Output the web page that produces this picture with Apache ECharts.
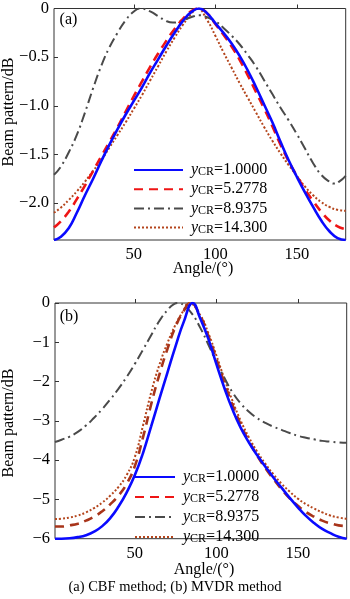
<!DOCTYPE html>
<html>
<head>
<meta charset="utf-8">
<script src="https://cdn.jsdelivr.net/npm/echarts@6/dist/echarts.min.js"></script>
<style>
html,body{margin:0;padding:0;background:#fff;}
#chart{width:350px;height:599px;}
</style>
</head>
<body>
<div id="chart"></div>
<script>
// ---- data: [angle (deg), beam pattern (dB)] ----
// (a) CBF method
const cbfCR1 = [[1,-2.38],[5,-2.35],[10,-2.26],[15,-2.1],[20,-1.92],[25,-1.75],[30,-1.57],[35,-1.4],[40,-1.24],[45,-1.09],[50,-0.95],[55,-0.81],[60,-0.66],[65,-0.52],[70,-0.38],[75,-0.25],[80,-0.13],[85,-0.04],[90,0],[95,-0.05],[100,-0.15],[105,-0.25],[110,-0.36],[115,-0.49],[120,-0.64],[125,-0.81],[130,-0.99],[135,-1.17],[140,-1.37],[145,-1.56],[150,-1.73],[155,-1.89],[160,-2.04],[165,-2.18],[170,-2.29],[175,-2.36],[180,-2.38]];
const cbfCR2 = [[1,-2.25],[5,-2.19],[10,-2.09],[15,-1.96],[20,-1.82],[25,-1.67],[30,-1.52],[35,-1.37],[40,-1.22],[45,-1.06],[50,-0.9],[55,-0.75],[60,-0.6],[65,-0.46],[70,-0.33],[75,-0.21],[80,-0.11],[85,-0.03],[90,0],[95,-0.05],[100,-0.16],[105,-0.27],[110,-0.39],[115,-0.53],[120,-0.69],[125,-0.86],[130,-1.03],[135,-1.21],[140,-1.4],[145,-1.57],[150,-1.72],[155,-1.86],[160,-1.98],[165,-2.09],[170,-2.18],[175,-2.24],[180,-2.27]];
const cbfCR3 = [[1,-1.71],[5,-1.63],[10,-1.48],[15,-1.3],[20,-1.07],[25,-0.82],[30,-0.59],[35,-0.4],[40,-0.25],[45,-0.12],[50,-0.03],[54,0],[60,-0.03],[65,-0.08],[70,-0.13],[74,-0.145],[80,-0.12],[85,-0.09],[90,-0.07],[95,-0.09],[100,-0.13],[105,-0.2],[110,-0.28],[115,-0.37],[120,-0.48],[125,-0.6],[130,-0.74],[135,-0.88],[140,-1.02],[145,-1.15],[150,-1.29],[155,-1.44],[160,-1.59],[165,-1.71],[170,-1.78],[173,-1.8],[176,-1.78],[180,-1.72]];
const cbfCR4 = [[1,-2.1],[5,-2.05],[10,-1.97],[15,-1.88],[20,-1.78],[25,-1.67],[30,-1.56],[35,-1.43],[40,-1.3],[45,-1.17],[50,-1.03],[55,-0.89],[60,-0.74],[65,-0.59],[70,-0.44],[75,-0.3],[80,-0.17],[85,-0.06],[89,0],[95,-0.12],[100,-0.28],[105,-0.45],[110,-0.61],[115,-0.77],[120,-0.92],[125,-1.07],[130,-1.22],[135,-1.36],[140,-1.49],[145,-1.61],[150,-1.72],[155,-1.83],[160,-1.92],[165,-1.99],[170,-2.04],[175,-2.07],[180,-2.08]];
// (b) MVDR method
const mvdrCR1 = [[1,-6.0],[5,-6.0],[10,-5.99],[15,-5.96],[20,-5.91],[25,-5.82],[30,-5.68],[35,-5.47],[40,-5.18],[45,-4.82],[50,-4.38],[55,-3.82],[60,-3.14],[65,-2.45],[70,-1.77],[75,-1.1],[80,-0.48],[85.5,0],[90,-0.38],[95,-0.9],[100,-1.55],[105,-2.17],[110,-2.72],[115,-3.18],[120,-3.55],[125,-3.87],[130,-4.16],[135,-4.44],[140,-4.7],[145,-4.96],[150,-5.2],[155,-5.42],[160,-5.6],[165,-5.75],[170,-5.86],[175,-5.95],[180,-6.0]];
const mvdrCR2 = [[1,-5.69],[5,-5.69],[10,-5.66],[15,-5.62],[20,-5.54],[25,-5.44],[30,-5.3],[35,-5.12],[40,-4.9],[45,-4.6],[50,-4.15],[55,-3.42],[60,-2.58],[65,-1.83],[70,-1.17],[75,-0.6],[80,-0.2],[84,0],[90,-0.32],[95,-0.82],[100,-1.42],[105,-2.04],[110,-2.6],[115,-3.1],[120,-3.52],[125,-3.88],[130,-4.2],[135,-4.48],[140,-4.74],[145,-4.97],[150,-5.16],[155,-5.32],[160,-5.44],[165,-5.54],[170,-5.61],[175,-5.66],[180,-5.68]];
const mvdrCR3 = [[1,-3.54],[5,-3.48],[10,-3.4],[15,-3.28],[20,-3.12],[25,-2.92],[30,-2.7],[35,-2.45],[40,-2.18],[45,-1.88],[50,-1.55],[55,-1.19],[60,-0.82],[65,-0.46],[70,-0.18],[74,-0.03],[77,0],[80,-0.06],[85,-0.27],[90,-0.62],[95,-1.05],[100,-1.5],[105,-1.91],[110,-2.28],[115,-2.56],[120,-2.77],[125,-2.93],[130,-3.05],[135,-3.15],[140,-3.23],[145,-3.31],[150,-3.38],[155,-3.43],[160,-3.47],[165,-3.51],[170,-3.53],[175,-3.55],[180,-3.56]];
const mvdrCR4 = [[1,-5.5],[5,-5.49],[10,-5.46],[15,-5.41],[20,-5.33],[25,-5.22],[30,-5.08],[35,-4.9],[40,-4.68],[45,-4.38],[50,-3.92],[55,-3.12],[60,-2.28],[65,-1.58],[70,-1.02],[75,-0.55],[80,-0.18],[83,0],[90,-0.3],[95,-0.76],[100,-1.33],[105,-1.94],[110,-2.5],[115,-3.0],[120,-3.42],[125,-3.78],[130,-4.09],[135,-4.36],[140,-4.6],[145,-4.8],[150,-4.98],[155,-5.12],[160,-5.23],[165,-5.33],[170,-5.41],[175,-5.46],[180,-5.49]];

const crLabels = ['1.0000', '5.2778', '8.9375', '14.300'];
const xTicks = [50, 100, 150];
const yTicksA = [0, -0.5, -1.0, -1.5, -2.0];
const yTicksB = [0, -1, -2, -3, -4, -5, -6];
const xName = 'Angle/(°)';
const yName = 'Beam pattern/dB';
const caption = '(a) CBF method; (b) MVDR method';

// ---- chart ----
const FONT = 'Liberation Serif';
const BLUE = '#0a0aff', RED = '#ee1515', GRAY = '#4a4a4a', BROWN = '#b4451c', DKRED = '#a8341a';
const styles = [
  {color: BLUE, width: 2.6, type: 'solid'},
  {color: RED, width: 2.6, type: [9, 6]},
  {color: GRAY, width: 2, type: [10, 4, 2, 4]},
  {color: BROWN, width: 2, type: [2, 2]}
];
const fmtNeg = (dec) => (v) => v === 0 ? '0' : '\u2212' + Math.abs(v).toFixed(dec);

function makeSeries(prefix, datas, gi, overrideColors) {
  return datas.map((d, i) => ({
    name: prefix + i,
    type: 'line',
    xAxisIndex: gi, yAxisIndex: gi,
    data: d,
    showSymbol: false, symbol: 'none',
    smooth: 0.5,
    lineStyle: {color: (overrideColors && overrideColors[i]) || styles[i].color, width: styles[i].width, type: styles[i].type},
    itemStyle: {color: (overrideColors && overrideColors[i]) || styles[i].color},
    z: 10 - i
  }));
}

const legendRich = {
  i: {fontFamily: FONT, fontStyle: 'italic', fontSize: 16, color: '#000', padding: [0, 0, 0, 3]},
  s: {fontFamily: FONT, fontSize: 12, color: '#000', verticalAlign: 'bottom', lineHeight: 12, padding: [6, 0, 0, 0]},
  n: {fontFamily: FONT, fontSize: 16, color: '#000'}
};
function legendFmt(name) {
  const idx = +name.slice(1);
  return '{i|y}{s|CR}{n|=' + crLabels[idx] + '}';
}

function xAxisCfg(gi) {
  return {
    type: 'value', gridIndex: gi, min: 1, max: 180,
    axisLine: {show: false},
    axisTick: {show: true, inside: true, length: 4, customValues: xTicks, lineStyle: {color: '#333'}},
    axisLabel: {customValues: xTicks, margin: 6, color: '#000', fontFamily: FONT, fontSize: 16.5},
    splitLine: {show: false}
  };
}
function yAxisCfg(gi, min, ticks, dec) {
  return {
    type: 'value', gridIndex: gi, min: min, max: 0,
    axisLine: {show: false},
    axisTick: {show: true, inside: true, length: 4, customValues: ticks, lineStyle: {color: '#333'}},
    axisLabel: {customValues: ticks, margin: 5, color: '#000', fontFamily: FONT, fontSize: 16.5, formatter: fmtNeg(dec), showMaxLabel: true, showMinLabel: true},
    splitLine: {show: false}
  };
}

const legendBase = {
  orient: 'vertical', padding: 0, itemHeight: 14, selectedMode: false,
  itemStyle: {opacity: 0},
  formatter: legendFmt,
  textStyle: {fontFamily: FONT, fontSize: 16, color: '#000', rich: legendRich}
};

const option = {
  animation: false,
  backgroundColor: '#fff',
  grid: [
    {left: 54, top: 5, width: 291.7, height: 235, show: true, borderColor: '#333', borderWidth: 1, backgroundColor: 'transparent'},
    {left: 55, top: 303, width: 291.7, height: 235.7, show: true, borderColor: '#333', borderWidth: 1, backgroundColor: 'transparent'}
  ],
  xAxis: [xAxisCfg(0), xAxisCfg(1)],
  yAxis: [yAxisCfg(0, -2.38, yTicksA, 1), yAxisCfg(1, -6, yTicksB, 0)],
  legend: [
    Object.assign({}, legendBase, {
      left: 133, top: 160, itemWidth: 49, itemGap: 1.2,
      data: ['a0', 'a1', 'a2', 'a3']
    }),
    Object.assign({}, legendBase, {
      left: 134, top: 467, itemWidth: 40, itemGap: 2.0,
      data: ['b0', {name: 'b1', lineStyle: {color: RED}}, 'b2', 'b3']
    })
  ],
  graphic: [
    {type: 'text', x: 68.5, y: 20, style: {text: '(a)', font: '16px "' + FONT + '"', fill: '#000', align: 'center', verticalAlign: 'middle'}},
    {type: 'text', x: 69, y: 316.5, style: {text: '(b)', font: '16px "' + FONT + '"', fill: '#000', align: 'center', verticalAlign: 'middle'}},
    {type: 'text', x: 203, y: 268.5, style: {text: xName, font: '16px "' + FONT + '"', fill: '#000', align: 'center', verticalAlign: 'middle'}},
    {type: 'text', x: 204, y: 569.5, style: {text: xName, font: '16px "' + FONT + '"', fill: '#000', align: 'center', verticalAlign: 'middle'}},
    {type: 'text', x: 9, y: 112, rotation: Math.PI / 2, style: {text: yName, font: '16px "' + FONT + '"', fill: '#000', align: 'center', verticalAlign: 'middle'}},
    {type: 'text', x: 9, y: 423, rotation: Math.PI / 2, style: {text: yName, font: '16px "' + FONT + '"', fill: '#000', align: 'center', verticalAlign: 'middle'}},
    {type: 'text', x: 175, y: 587, style: {text: caption, font: '14.5px "' + FONT + '"', fill: '#000', align: 'center', verticalAlign: 'middle'}}
  ],
  series: [].concat(
    makeSeries('a', [cbfCR1, cbfCR2, cbfCR3, cbfCR4], 0),
    makeSeries('b', [mvdrCR1, mvdrCR2, mvdrCR3, mvdrCR4], 1, [null, DKRED, null, null])
  )
};

const chart = echarts.init(document.getElementById('chart'), null, {renderer: 'canvas'});
chart.setOption(option);
</script>
</body>
</html>
